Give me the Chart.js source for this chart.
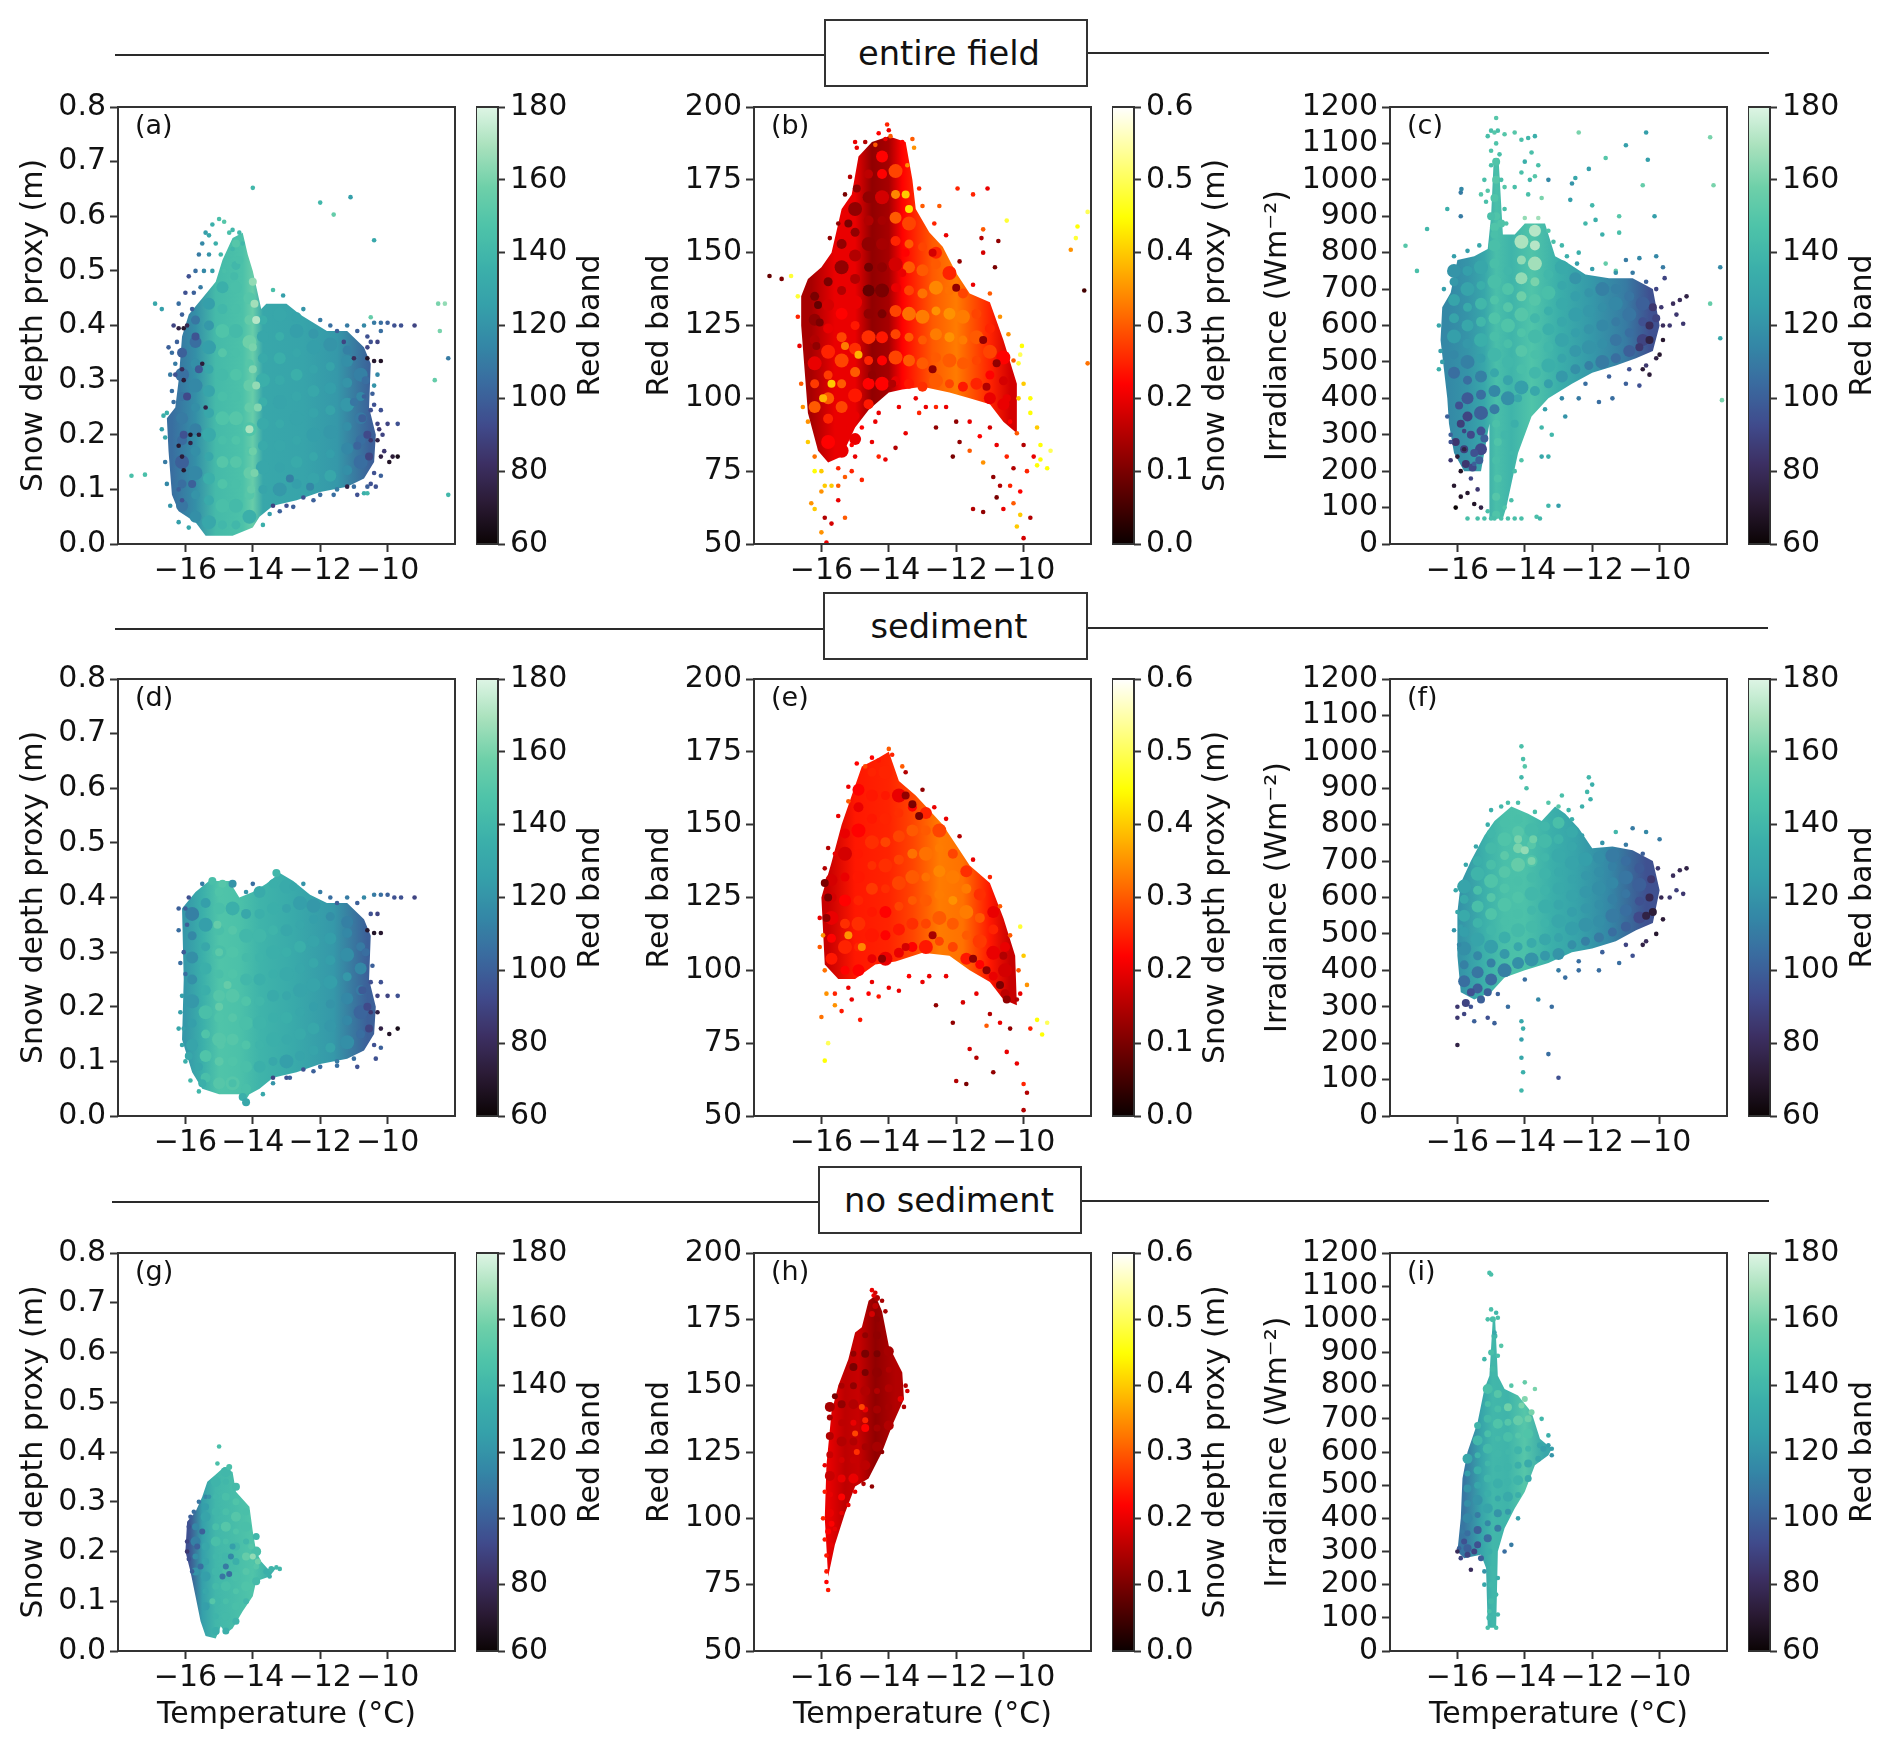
<!DOCTYPE html>
<html>
<head>
<meta charset="utf-8">
<script src="https://cdn.jsdelivr.net/npm/chart.js@4"></script>
<style>
  html, body { margin: 0; background: #fff; }
  #page { position: relative; width: 1892px; height: 1748px; overflow: hidden; filter: blur(0.5px); font-family: "DejaVu Sans"; }
  canvas { position: absolute; }
  .rule { position: absolute; height: 2px; background: #2a2a2a; }
  .box { position: absolute; box-sizing: border-box; border: 2.5px solid #333; background: #fff; font-size: 33.7px; display: flex; align-items: center; justify-content: center; color: #111; }
</style>
</head>
<body>
<div id="page"></div>
<script>
// tick labels
const tempTicks = [-16, -14, -12, -10]
const depthTicks = [0, 0.1, 0.2, 0.3, 0.4, 0.5, 0.6, 0.7, 0.8]
const redTicks = [50, 75, 100, 125, 150, 175, 200]
const irrTicks = [0, 100, 200, 300, 400, 500, 600, 700, 800, 900, 1000, 1100, 1200]
const barRedTicks = [60, 80, 100, 120, 140, 160, 180]
const barDepthTicks = [0, 0.1, 0.2, 0.3, 0.4, 0.5, 0.6]

// outline of the dense part of each cloud (x, y pairs), with its colour value along temperature
const aShape = [-15.1,.48, -14.9,.52, -14.6,.56, -14.3,.57, -14.15,.53, -14,.5, -13.75,.43, -13.6,.44, -13,.44, -12.6,.42, -12.2,.405, -11.8,.39, -11.2,.39, -10.7,.36, -10.5,.33, -10.55,.25, -10.35,.2, -10.4,.15, -10.7,.12, -11.2,.105, -12,.095, -12.7,.08, -13.4,.07, -13.8,.05, -14,.03, -14.6,.015, -15.4,.015, -15.7,.04, -16.2,.06, -16.4,.09, -16.5,.17, -16.55,.23, -16.3,.25, -16.2,.3, -16.1,.38, -15.9,.42, -15.5,.45]
const aBase = [-16.4,105, -15.7,118, -15.1,142, -14.3,146, -14,156, -13.7,130, -12.5,128, -11.5,122, -10.5,100]
const bShape = [-16.6,135, -16.4,141, -16,145, -15.7,150, -15.4,165, -15.1,170, -14.9,183, -14.5,188, -14,190, -13.5,188, -13.3,175, -13.2,165, -12.8,157, -12.4,152, -12,143, -11.6,136, -11,133, -10.6,120, -10.2,105, -10.2,88, -10.6,92, -11,98, -11.6,100, -12.2,102, -13,104, -13.6,103, -14,102, -14.6,96, -15,90, -15.4,80, -15.8,78, -16.1,82, -16.4,95, -16.5,110, -16.6,125]
const bBase = [-16.3,.14, -15.6,.2, -15,.2, -14.5,.12, -14,.14, -13.6,.22, -12.7,.3, -12,.33, -11,.25, -10.4,.18]
const cShape = [-16.5,560, -16.45,650, -16.2,690, -16,780, -15.5,790, -15.1,810, -15,900, -14.92,1060, -14.78,1060, -14.65,850, -14.3,850, -14,880, -13.4,880, -13.1,790, -12.7,770, -12.2,740, -11.5,730, -10.8,730, -10.2,700, -10,600, -10.2,530, -10.7,510, -11.3,490, -12,470, -12.6,440, -13.3,400, -13.8,350, -14.2,250, -14.55,100, -14.65,70, -15.05,70, -15.05,330, -15.3,200, -15.8,200, -16.1,250, -16.25,330, -16.3,400, -16.4,480]
const cBase = [-16.3,115, -15.7,120, -15.2,130, -14.85,145, -14.4,138, -13.8,148, -13,135, -12,122, -11,110, -10.3,95]
const dShape = [-16.1,.14, -16.05,.25, -16.1,.38, -15.7,.41, -15.3,.43, -14.7,.43, -14.4,.40, -14,.41, -13.6,.425, -13.2,.445, -12.8,.43, -12.3,.405, -11.8,.39, -11.2,.39, -10.7,.36, -10.5,.33, -10.55,.25, -10.35,.2, -10.4,.15, -10.7,.12, -11.2,.105, -12,.095, -12.7,.08, -13.4,.07, -13.8,.05, -14.1,.04, -14.25,.025, -14.4,.04, -15,.04, -15.5,.05, -15.8,.08]
const dBase = [-16,122, -15.5,135, -15,148, -14.4,146, -13.8,138, -12.8,132, -11.6,122, -10.6,100]
const eShape = [-16,125, -15.7,137, -15.4,150, -15.1,160, -14.8,170, -14.3,173, -14,175, -13.7,165, -13.2,160, -12.8,155, -12.4,150, -12,143, -11.6,136, -11,130, -10.6,118, -10.25,105, -10.2,88, -10.6,90, -11,96, -11.6,100, -12.2,105, -13,106, -13.8,103, -14.4,102, -15,97, -15.5,97, -15.9,102]
const eBase = [-15.8,.17, -15,.24, -14,.25, -13.3,.28, -12.5,.33, -11.8,.32, -11,.24, -10.4,.17]
const fShape = [-16,560, -15.9,640, -15.6,700, -15.2,770, -14.9,810, -14.4,850, -13.9,830, -13.5,810, -13.1,850, -12.8,830, -12.4,790, -12,735, -11.4,740, -10.8,730, -10.2,700, -10,620, -10.2,530, -10.7,510, -11.3,480, -12,460, -12.6,450, -13.3,420, -14,400, -14.6,380, -15,340, -15.5,320, -15.9,340, -16,440]
const fBase = [-15.9,120, -15.2,136, -14.6,145, -14,146, -13.2,135, -12.5,128, -11.5,115, -10.4,95]
const gShape = [-15.1,.355, -14.85,.37, -14.6,.36, -14.5,.32, -14.1,.29, -14,.24, -13.9,.2, -13.75,.18, -13.55,.165, -13.3,.168, -13.5,.15, -13.9,.14, -14,.11, -14.3,.08, -14.6,.045, -14.8,.035, -14.95,.05, -15.1,.025, -15.4,.03, -15.55,.06, -15.7,.11, -15.85,.16, -16,.2, -15.95,.26, -15.7,.28, -15.5,.31, -15.35,.34]
const gBase = [-15.9,95, -15.5,125, -15.1,140, -14.6,143, -14,148, -13.5,135]
const hShape = [-15.9,100, -15.85,120, -15.7,140, -15.5,150, -15.2,160, -15,170, -14.8,172, -14.6,182, -14.4,184, -14.2,178, -14,165, -13.6,155, -13.55,145, -13.9,135, -14.2,125, -14.6,115, -15,112, -15.3,102, -15.6,90, -15.8,78]
const hBase = [-15.8,.2, -15.3,.16, -14.9,.17, -14.4,.12, -13.8,.15]
const iShape = [-16,300, -15.9,400, -15.85,520, -15.7,600, -15.4,690, -15.2,790, -15.05,830, -14.95,1000, -14.88,1000, -14.8,830, -14.6,790, -14.2,770, -13.8,720, -13.55,640, -13.2,610, -13.3,590, -13.7,560, -14,480, -14.3,430, -14.6,370, -14.8,300, -14.85,70, -15.1,70, -15.15,250, -15.3,290, -15.8,280]
const iBase = [-15.8,108, -15.3,128, -14.95,140, -14.5,138, -14,150, -13.4,130]

// core rows are: temperature, then (y, colour value) pairs read along that temperature
const aCore = [
  [-16.1, .07,108, .11,105, .15,100, .19,104, .23,110, .27,108, .31,106, .35,100],
  [-15.7, .05,118, .09,120, .13,115, .17,118, .21,112, .25,118, .29,115, .33,118, .37,105, .41,108],
  [-15.3, .04,130, .08,132, .12,135, .16,130, .20,132, .24,130, .28,128, .32,130, .36,125, .40,122, .44,125],
  [-14.9, .035,140, .07,145, .11,148, .15,150, .19,145, .23,148, .27,145, .31,142, .35,150, .39,148, .43,140, .47,135],
  [-14.5, .035,140, .07,142, .11,145, .15,150, .19,148, .23,150, .27,145, .31,148, .35,145, .39,142, .43,145, .47,145, .51,140],
  [-14.1, .05,135, .09,150, .13,155, .17,150, .21,148, .25,155, .29,155, .33,150, .37,158, .41,155, .45,150],
  [-13.7, .10,128, .14,130, .18,132, .22,132, .26,135, .30,135, .34,132, .38,130, .41,135],
  [-13.2, .10,122, .14,128, .18,130, .22,132, .26,128, .30,132, .34,135, .38,135, .42,130],
  [-12.7, .11,125, .15,132, .19,130, .23,128, .27,130, .31,135, .35,130, .39,125, .415,128],
  [-12.2, .12,128, .16,130, .20,125, .24,128, .28,130, .32,128, .36,125, .385,122],
  [-11.7, .125,130, .165,125, .205,122, .245,128, .285,125, .325,128, .365,120],
  [-11.2, .135,118, .175,115, .215,118, .255,122, .295,120, .335,118, .355,112],
  [-10.8, .15,105, .19,105, .23,110, .27,115, .31,112]
]
const aMid = [-14,.48,165, -13.95,.44,168, -13.9,.41,172, -14,.36,160, -14,.32,162, -13.9,.29,165, -13.85,.25,162, -14.1,.21,170, -14,.17,158, -13.95,.13,160, -14.05,.1,155, -14.5,.55,150, -14.4,.52,145, -14.55,.49,142, -16.05,.2,95, -15.95,.27,92, -15.6,.32,98, -15.7,.38,96, -15.8,.11,100, -10.6,.2,92, -10.55,.16,90, -10.75,.23,100, -10.65,.3,105, -10.9,.18,102, -11,.26,108, -12.9,.12,112, -12.3,.105,115]
const aDots = [-14,.652,140, -12,.625,140, -11.6,.603,155, -11.1,.635,125, -10.4,.556,130, -17.6,.125,145, -17.2,.127,145, -16.9,.44,130, -16.7,.43,125, -13.4,.465,145, -8.5,.44,160, -8.3,.44,165, -8.45,.39,160, -8.2,.34,110, -8.6,.30,155, -8.2,.09,140, -10.5,.415,155, -11.2,.105,75, -10.7,.093,135, -10.6,.093,140,
  -15.7,.5,105, -15.6,.53,110, -15.5,.55,115, -15.4,.57,125, -15.2,.585,135, -15,.595,145, -14.85,.59,150, -14.7,.57,145, -14.6,.54,140, -15.3,.53,120, -15.1,.55,135, -14.95,.53,140, -15.45,.5,115, -15.2,.5,125, -14.85,.5,145, -15.55,.47,110, -15.9,.49,95, -15.75,.46,100, -16,.46,95, -15.8,.43,100, -15.3,.565,130, -14.6,.575,140, -14.4,.57,140, -14.3,.55,140,
  -16.2,.44,105, -16.1,.42,100, -16.2,.395,75, -16.05,.395,70, -15.95,.4,78, -16.4,.35,105, -16.3,.33,110, -16.25,.37,100, -16.3,.31,95, -16.05,.3,72, -16.1,.32,80, -15.5,.33,72, -15.4,.25,75, -16.4,.28,105, -16.55,.24,135, -16.65,.235,135, -16.6,.195,130, -16.2,.18,70, -16.1,.16,72, -16.05,.135,70, -15.85,.2,68, -15.6,.2,72, -15.85,.185,75, -16.2,.1,100, -16.1,.08,95,
  -11,.34,80, -10.6,.34,68, -10.4,.335,70, -10.2,.335,68, -10.5,.37,95, -10.3,.37,90, -10.6,.38,95, -10.9,.39,100, -11.3,.37,90, -11.5,.39,100, -11.2,.4,110, -10.7,.4,115, -10.4,.405,110, -10.2,.405,105, -10,.405,100, -9.8,.4,95, -9.6,.4,95, -9.2,.4,90, -10.2,.39,105, -10.5,.245,95, -10.2,.245,95, -10.3,.22,90, -10,.22,90, -9.7,.22,95, -10.5,.19,85, -10.3,.19,75, -10.2,.16,75, -9.95,.15,68, -9.7,.16,65, -9.85,.16,72, -10.1,.17,85, -10.4,.13,95, -10.2,.125,100, -10.5,.11,95, -11,.105,105, -11.5,.1,110, -12,.09,105, -12.5,.085,95, -13,.07,95, -13.4,.07,90, -10.7,.27,100, -10.4,.29,120, -10.3,.31,115,
  -16.35,.4,90, -16.5,.36,100, -16.45,.31,110, -16.35,.26,105, -16.7,.21,125, -16.6,.15,110, -16.55,.11,115, -16.45,.07,120, -16.2,.04,125, -15.9,.03,130, -13.7,.035,135, -13.5,.055,125, -13.2,.06,100, -12.8,.068,100, -12.2,.08,100, -11.6,.09,105, -10.9,.09,95, -10.6,.105,100, -10.35,.105,95, -10.25,.21,85, -10.15,.2,90, -10.4,.255,95, -10.45,.275,100, -10.6,.36,90, -11.7,.4,105, -12,.41,110, -12.5,.43,120, -13.1,.455,125]

const bCore = [
  [-16.2, 97,.3, 105,.27, 112,.2, 120,.15, 127,.12, 135,.1],
  [-15.8, 85,.22, 93,.25, 100,.3, 108,.27, 116,.25, 124,.2, 132,.18, 140,.1],
  [-15.4, 82,.2, 90,.2, 97,.28, 105,.3, 113,.28, 121,.28, 129,.22, 137,.15, 145,.12, 153,.12],
  [-15, 86,.2, 94,.2, 101,.24, 109,.3, 117,.26, 125,.24, 133,.2, 141,.15, 149,.15, 157,.12, 165,.12],
  [-14.6, 98,.24, 105,.22, 113,.25, 121,.26, 129,.12, 137,.08, 145,.09, 153,.12, 161,.15, 169,.12, 177,.16],
  [-14.2, 105,.22, 113,.22, 121,.24, 129,.1, 137,.1, 145,.12, 153,.14, 161,.14, 169,.18, 177,.22, 183,.22],
  [-13.8, 106,.2, 114,.28, 122,.28, 130,.28, 138,.2, 146,.18, 154,.25, 162,.3, 170,.34, 178,.28],
  [-13.4, 105,.24, 113,.3, 121,.3, 129,.32, 137,.28, 145,.3, 153,.3, 160,.28],
  [-13, 104,.26, 112,.3, 120,.3, 128,.33, 136,.32, 144,.3, 152,.28],
  [-12.6, 106,.3, 114,.3, 122,.33, 130,.35, 138,.34, 146,.3, 150,.25],
  [-12.2, 105,.28, 113,.3, 121,.35, 129,.35, 137,.32, 143,.25],
  [-11.8, 104,.24, 112,.3, 120,.33, 128,.33, 136,.28],
  [-11.4, 105,.25, 113,.28, 121,.3, 129,.28],
  [-11, 100,.2, 108,.22, 116,.28, 124,.25],
  [-10.6, 98,.2, 106,.18, 114,.22]
]
const bMid = [-13.6,143,.2, -13.75,138,.2, -13.5,150,.22, -14.9,115,.38, -15.7,105,.4, -15.95,100,.38, -15.3,118,.33, -14.95,172,.12, -15.2,160,.1, -16.1,132,.08, -16.05,126,.1, -16.15,118,.12, -13.4,165,.42, -13.5,170,.4, -12.7,110,.12, -13.9,105,.15, -14.5,108,.12, -11.2,120,.12, -12,138,.12, -12.7,150,.18, -11.1,104,.15, -10.8,112,.12, -10.5,100,.2]
const bDots = [-17.54,142,.08, -17.18,141,.1, -16.9,142,.48, -16.7,135,.48, -14.05,194,.25, -14,192,.2, -13.95,190,.3, -14.1,189,.2, -13.3,189,.3, -13.25,186,.35, -15,188,.2, -14.7,188,.15, -14.4,187,.3, -13.6,188,.22, -11.96,172,.25, -11.5,170,.25, -11.07,172,.2, -10.5,161,.48, -12.5,166,.3, -11.2,158,.3, -11.25,155,.15, -11.2,150,.18, -10.75,154,.12, -10.85,145,.1, -8.1,164,.5, -8.4,159,.45, -8.45,155,.48, -8.6,151,.35, -8.2,137,.05, -8.1,112,.32,
  -16,75,.4, -16.2,75,.45, -15.9,70,.4, -16,68,.35, -15.7,70,.4, -15.5,70,.3, -16.3,64,.35, -16.2,62,.4, -15.9,59,.15, -15.7,57,.18, -15.3,59,.3, -16,54,.35, -15.85,50.5,.2, -15.5,65,.2, -15.1,75,.25, -15,80,.2, -14.8,72,.25, -14.5,85,.2, -14.3,80,.25, -14.1,79,.2, -13.8,83,.15, -13.5,88,.2, -13.1,95,.25, -12.6,90,.12, -12.1,80,.1, -11.9,85,.12, -11.6,82,.3, -11.2,78,.35, -10.9,73,.12, -10.7,70,.15, -10.4,70,.25, -10.1,68,.22, -10.3,64,.3, -10.1,60,.4, -9.8,59,.15, -10.2,56,.4, -10,52,.18, -11.5,62,.15, -11.2,61,.12, -10.8,66,.1, -10.6,62,.2, -9.9,75,.25, -9.7,80,.2, -9.5,79,.45, -9.2,82,.5, -9.3,76,.45, -9.6,77,.45, -9.5,84,.45, -9.6,90,.4, -9.8,95,.45, -9.8,100,.45, -10,105,.4, -10.1,115,.5, -10.15,112,.48, -10.05,118,.45, -16.4,92,.35, -16.4,85,.4, -16.2,80,.32,
  -12.3,97,.2, -11.6,92,.2, -11,90,.18, -10.4,92,.22, -10.2,88,.3, -10,84,.15, -13.2,100,.2, -14.4,92,.2, -15.5,76,.25, -15.3,73,.3, -14.8,90,.22, -14.3,95,.2, -13.7,97,.2, -12.9,97,.2, -12.6,97,.25, -12,92,.12, -11.3,87,.22, -10.8,84,.2, -10.5,80,.25, -10.3,76,.15, -15.1,84,.22,
  -15.75,155,.12, -15.5,160,.12, -15.3,170,.1, -15.15,176,.15, -14.95,186,.2, -14.3,191,.22, -13.45,180,.35, -13.1,172,.25, -13,166,.3, -12.65,160,.25, -12.3,156,.2, -11.9,147,.12, -11.5,139,.2, -11,136,.3, -10.7,128,.35, -10.45,122,.35, -10.3,113,.3, -10.15,100,.4, -16.7,128,.25, -16.65,118,.2, -16.6,105,.3, -16.55,97,.35]

const cCore = [
  [-16.1, 470,105, 520,115, 570,125, 620,128, 670,128, 720,122, 750,120],
  [-15.7, 350,90, 400,98, 450,105, 500,112, 550,122, 600,130, 650,132, 700,128, 750,125],
  [-15.3, 260,92, 310,95, 360,100, 410,105, 460,112, 510,125, 560,135, 610,140, 660,140, 710,135, 760,130],
  [-14.9, 370,110, 420,115, 470,130, 520,140, 570,145, 620,148, 670,148, 720,145, 770,145, 820,145, 870,148],
  [-14.5, 400,118, 450,128, 500,140, 550,145, 600,148, 650,150, 700,148, 750,140],
  [-14.1, 430,125, 480,145, 530,150, 580,148, 630,150, 680,158, 730,165, 780,165, 830,170],
  [-13.7, 420,130, 470,140, 520,145, 570,142, 620,140, 670,150, 720,160, 770,168, 820,172, 860,172],
  [-13.3, 440,125, 490,135, 540,140, 590,135, 640,135, 690,145, 740,140],
  [-12.9, 460,122, 510,128, 560,128, 610,130, 660,132, 710,130, 760,132],
  [-12.5, 480,118, 530,122, 580,125, 630,125, 680,125, 730,120],
  [-12.1, 490,112, 540,120, 590,120, 640,122, 690,120],
  [-11.7, 500,110, 550,118, 600,115, 650,118, 700,112],
  [-11.3, 510,105, 560,108, 610,110, 660,115, 700,112],
  [-10.9, 530,100, 580,105, 630,108, 680,108],
  [-10.5, 560,90, 610,95, 660,100]
]
const cMid = [-14.85,80,148, -14.85,130,150, -14.8,180,148, -14.85,230,145, -14.8,280,148, -14.85,330,146, -14.6,300,140, -14.3,330,135, -14.2,400,130, -14.85,900,148, -14.9,950,148, -14.85,1000,150, -14.85,1050,148, -14.9,850,145, -15,900,145, -14.7,880,148, -15.8,260,88, -15.6,300,92, -15.5,250,95, -15.9,330,88, -15.35,230,100, -15.75,220,85, -16.05,280,85, -15.55,210,92, -15.95,380,95, -15.2,290,100, -10.3,600,80, -10.2,650,85, -10.3,560,75, -10.6,540,85, -10.1,620,90]
const cDots = [-17.54,819,150, -16.9,865,140, -17.2,750,145, -16.3,920,135, -15.9,965,110, -15.88,975,115, -15.9,900,110, -14.85,1170,150, -15,1135,145, -14.9,1130,150, -14.8,1135,145, -15.1,1120,145, -14.85,1100,148, -14.6,1125,150, -14.3,1130,150, -14.1,1110,145, -13.9,1115,140, -13.7,1120,135, -13.8,1075,145, -14,1050,135, -14.1,1020,145, -13.85,1000,140, -13.3,1000,115, -13.6,1040,145, -13.7,1010,150, -14.3,980,145, -15.2,1000,145, -15.3,960,150, -15.1,970,150, -13.9,960,145, -13.5,950,160,
  -12.4,1130,160, -11,1095,125, -10.4,1130,125, -10.35,1055,125, -10.5,985,155, -11.6,1060,150, -12.1,1030,125, -12.5,1005,130, -12.6,990,120, -12.65,945,125, -11.2,900,150, -11.2,855,145, -10.15,900,125, -8.5,1117,160, -8.4,985,160, -8.2,760,115, -8.5,660,155, -8.2,565,130, -8.15,395,160, -12,930,140, -11.9,890,135, -11.7,850,135, -12.2,880,140, -12.4,800,135, -11.6,770,155, -11.3,750,155, -11,780,110, -10.6,785,115, -10.1,790,115, -9.9,760,110, -9.85,730,90, -9.4,670,80, -9.2,680,75, -9.6,660,80, -9.5,630,85, -9.3,605,85, -9.7,600,85, -9.9,560,70, -10,520,70, -10.3,465,72, -10.5,480,72, -10.6,435,95, -11,440,100, -11.4,400,105, -11.8,390,105, -12.4,400,110, -12.8,350,120, -13.5,320,140, -13.2,300,140, -13.5,240,130, -13.3,240,135, -13.3,105,140, -13,105,125, -13.65,75,145, -13.55,70,140,
  -15.7,70,145, -15.4,70,145, -15.2,70,145, -15,70,145, -14.9,70,145, -14.7,70,145, -14.5,70,145, -14.3,70,145, -14.1,70,145, -15.1,90,145, -14.6,100,148, -14.4,120,145, -14.3,200,145, -14.1,230,148, -14.4,250,140,
  -16.2,230,85, -16,240,72, -15.9,200,68, -15.8,260,75, -16.1,160,70, -15.9,130,68, -16.05,100,60, -15.7,140,70, -15.5,110,68, -15.3,100,75, -16.2,300,100, -16.3,350,100, -16.2,280,95, -15.6,180,90, -15.4,150,85, -15.5,220,100, -15.8,310,90, -16.45,500,125, -16.55,480,135,
  -15,1080,148, -14.75,1070,145, -14.7,1000,145, -15,1040,145, -15.15,940,145, -14.6,920,145, -14.6,980,150, -14.55,880,148, -13.3,860,148, -13.15,830,145, -12.9,820,140, -12.75,790,135, -12.45,770,125, -12,755,125, -11.3,745,120, -10.8,745,110, -10.4,720,100, -10.1,700,90, -9.95,650,85, -9.9,600,80, -10.1,510,75, -10.4,490,85, -10.9,480,95, -11.5,460,100, -12.2,440,105, -12.9,400,115, -13.4,370,125, -16.55,600,130, -16.5,530,125, -16.4,700,125, -16.1,790,125, -15.7,805,125, -15.35,820,130, -14,895,165, -13.6,895,168]

const dCore = [
  [-15.8, .13,128, .17,125, .21,122, .25,118, .29,118, .33,115, .37,112],
  [-15.4, .07,145, .11,148, .15,148, .19,145, .23,135, .27,135, .31,130, .35,125, .39,125],
  [-15, .06,150, .10,152, .14,150, .18,148, .22,150, .26,145, .30,145, .34,145, .38,145, .41,148],
  [-14.6, .06,150, .10,148, .14,150, .18,150, .22,150, .26,148, .30,148, .34,150, .38,135],
  [-14.2, .05,145, .09,145, .13,148, .17,145, .21,148, .25,140, .29,142, .33,140, .37,130],
  [-13.8, .09,135, .13,138, .17,138, .21,140, .25,135, .29,138, .33,140, .37,135, .41,132],
  [-13.4, .10,130, .14,135, .18,135, .22,132, .26,135, .30,135, .34,138, .38,135, .425,135],
  [-13, .10,125, .14,132, .18,135, .22,130, .26,132, .30,135, .34,130, .38,128, .42,132],
  [-12.6, .11,128, .15,132, .19,130, .23,128, .27,130, .31,135, .35,130, .39,125],
  [-12.2, .12,128, .16,130, .20,125, .24,128, .28,130, .32,128, .36,125, .385,122],
  [-11.7, .125,128, .165,122, .205,120, .245,125, .285,125, .325,125, .365,118],
  [-11.2, .135,118, .175,115, .215,115, .255,122, .295,118, .335,115, .355,112],
  [-10.8, .15,105, .19,102, .23,110, .27,115, .31,110]
]
const dMid = [-15.05,.35,155, -15,.3,152, -15,.2,155, -14.75,.24,155, -14.95,.13,150, -14.6,.06,145, -14.3,.035,135, -14.2,.025,130, -15.5,.06,135, -15.6,.09,130, -15.9,.11,130, -14.9,.425,150, -15.2,.43,145, -14.6,.425,120, -13.3,.445,140, -12.8,.42,130, -10.6,.2,92, -10.55,.16,90, -10.75,.23,98, -10.65,.3,105]
const dDots = [-16,.38,100, -15.9,.4,95, -15.95,.35,100, -16.05,.3,98, -16.1,.22,125, -16,.26,105, -16.1,.13,130, -16.05,.16,125, -15.5,.425,110, -14.2,.41,120, -14,.425,105, -11.5,.39,100, -11.2,.4,110, -10.9,.39,100, -10.7,.4,115, -10.4,.405,110, -10.2,.405,105, -10,.405,100, -9.8,.4,95, -9.6,.4,95, -9.2,.4,90, -10.6,.34,70, -10.4,.335,68, -10.2,.335,70, -10.5,.37,95, -10.3,.37,90, -10.5,.245,95, -10.2,.245,95, -10.3,.22,90, -10,.22,90, -9.7,.22,95, -10.5,.19,85, -10.3,.19,75, -10.2,.16,75, -9.95,.15,68, -9.7,.16,65, -10.4,.13,95, -10.2,.125,100, -11,.105,105, -11.5,.1,110, -12,.09,105, -12.5,.085,95, -13,.07,95, -13.4,.07,90,
  -16.2,.34,105, -16.2,.38,100, -16.15,.28,105, -16.15,.19,125, -16.2,.16,130, -16,.1,135, -15.85,.065,140, -15.6,.045,140, -13.7,.04,130, -13.4,.06,120, -12.9,.07,100, -12.2,.082,100, -11.5,.092,105, -10.9,.09,95, -10.35,.105,95, -10.45,.275,100, -11.7,.4,105, -12,.41,110, -12.5,.425,120]

const eCore = [
  [-15.7, 104,.24, 111,.22, 118,.2, 125,.18, 131,.18],
  [-15.3, 100,.22, 108,.25, 116,.26, 124,.22, 132,.2, 140,.18, 147,.2],
  [-14.9, 100,.22, 108,.25, 116,.26, 124,.25, 132,.24, 140,.24, 148,.22, 156,.2, 162,.22],
  [-14.5, 104,.2, 112,.24, 120,.24, 128,.27, 136,.26, 144,.26, 152,.24, 160,.24, 168,.25],
  [-14.1, 104,.2, 112,.22, 120,.22, 128,.26, 136,.26, 144,.28, 152,.25, 160,.24, 168,.25],
  [-13.7, 106,.2, 114,.24, 122,.28, 130,.28, 138,.28, 146,.28, 154,.26, 160,.2],
  [-13.3, 108,.22, 116,.26, 124,.3, 132,.3, 140,.32, 148,.3, 156,.22],
  [-12.9, 108,.24, 116,.28, 124,.3, 132,.32, 140,.32, 148,.3, 154,.25],
  [-12.5, 110,.28, 118,.3, 126,.33, 134,.34, 142,.33, 148,.28],
  [-12.1, 108,.28, 116,.3, 124,.35, 132,.33, 140,.28],
  [-11.7, 104,.24, 112,.3, 120,.33, 128,.33, 134,.26],
  [-11.3, 102,.22, 110,.27, 118,.3, 126,.26],
  [-10.9, 98,.2, 106,.2, 114,.25, 120,.2],
  [-10.55, 92,.16, 100,.18, 108,.2]
]
const eMid = [-13.5,160,.12, -13.3,157,.1, -13.1,153,.1, -15.8,125,.1, -15.85,118,.12, -15.9,130,.1, -15.2,112,.35, -14.8,108,.34, -14.2,104,.12, -13.5,108,.18, -12.7,112,.14, -11.5,104,.12, -11.1,100,.12, -10.7,95,.1, -10.5,90,.12, -10.6,105,.15]
const eDots = [-14,176,.3, -13.9,174,.25, -14.3,172,.24, -14.7,170,.28, -14.5,173,.22, -13.6,170,.3, -15.2,158,.3, -15.6,140,.2, -15.9,135,.15, -15.95,112,.35, -15.9,100,.32, -15.85,92,.35, -16,84,.32, -15.8,75,.5, -15.9,69,.45, -15.6,88,.35, -15.4,86,.24, -15.1,90,.2, -14.85,83,.24, -14.3,91,.24, -14.5,96,.2, -13.7,93,.2, -13,96,.2, -12.3,98,.2, -12.1,82,.12, -12,62,.15, -11.7,61,.1, -11.6,73,.18, -11.4,70,.15, -11.1,81,.3, -10.9,65,.12, -10.5,72,.2, -10.2,68,.2, -10,61,.25, -10,52,.15, -9.9,58,.15, -9.8,80,.25, -9.6,83,.45, -9.45,78,.45, -9.3,82,.5, -10.2,90,.15, -9.9,95,.35, -10,105,.4, -10.1,115,.48, -11.8,89,.18, -12.6,88,.12, -11.4,92,.2, -15.6,92,.25, -15.2,94,.2, -14.6,92,.22, -14,94,.2, -13.4,98,.22, -12.8,98,.2, -11,85,.15, -10.7,82,.2, -10.4,80,.12,
  -16.05,118,.2, -16.05,108,.3, -15.8,142,.15, -15.5,153,.2, -15.2,163,.2, -14.95,171,.22, -13.5,168,.15, -13,162,.12, -12.65,156,.2, -12.3,152,.2, -11.9,146,.15, -11.5,138,.2, -11,132,.25, -10.7,122,.3, -10.4,112,.3, -10.15,100,.3, -10.1,92,.2]

const fCore = [
  [-15.8, 370,105, 415,112, 460,118, 505,125, 550,132, 595,132, 630,128],
  [-15.4, 350,100, 395,108, 440,115, 485,128, 530,138, 575,145, 620,145, 665,138, 700,135],
  [-15, 375,105, 420,112, 465,125, 510,140, 555,148, 600,150, 645,148, 690,145, 735,142, 775,140],
  [-14.6, 400,112, 445,122, 490,135, 535,145, 580,148, 625,148, 670,150, 715,152, 760,148, 805,145],
  [-14.2, 420,118, 465,130, 510,142, 555,145, 600,148, 645,145, 690,155, 735,160, 780,150, 815,145],
  [-13.8, 430,120, 475,132, 520,142, 565,140, 610,140, 655,142, 700,148, 745,150, 785,142],
  [-13.4, 440,122, 485,130, 530,138, 575,135, 620,138, 665,138, 710,140, 755,142, 795,140],
  [-13, 445,120, 490,128, 535,130, 580,130, 625,132, 670,132, 715,132, 760,138, 805,145],
  [-12.6, 470,118, 515,125, 560,125, 605,128, 650,128, 695,128, 740,130, 780,132],
  [-12.2, 480,112, 525,120, 570,122, 615,122, 660,122, 705,125],
  [-11.8, 490,110, 535,118, 580,118, 625,118, 670,118, 710,118],
  [-11.4, 505,105, 550,110, 595,112, 640,115, 685,112, 715,110],
  [-11, 520,100, 565,105, 610,108, 655,108, 700,105],
  [-10.6, 545,92, 590,95, 635,100, 680,98]
]
const fMid = [-15.6,340,95, -15.75,310,90, -15.3,320,100, -15.1,340,100, -13.8,700,160, -14,730,165, -14.2,760,160, -13.75,760,158, -10.3,600,78, -10.25,650,85, -10.4,550,75, -10.2,560,72]
const fDots = [-14.1,1015,145, -14.05,980,145, -14,960,150, -14.1,930,140, -13.95,900,145, -14.5,860,145, -15,840,135, -13.3,860,150, -13,850,150, -12.9,880,145, -12.7,840,140, -12.1,930,140, -12,910,135, -12.15,890,140, -12.05,870,135, -12.3,850,135, -16,300,85, -16,270,85, -16,195,75, -15.8,280,90, -15.5,260,100, -15.1,270,95, -14.9,255,100, -14.5,300,105, -14.1,260,130, -14.05,240,135, -14.1,210,125, -14.1,160,130, -14.05,120,135, -14.1,70,140, -13.3,170,105, -13,105,95, -13.2,300,105, -13.6,320,115, -12.8,380,105, -12.4,400,105, -11.8,400,105, -11.2,420,105, -10.8,440,95, -10.5,470,75, -10.1,500,70, -9.9,540,72, -9.7,600,85, -9.5,620,88, -9.3,610,85, -9.6,660,80, -9.4,675,78, -9.2,680,75, -10,760,110, -10.4,780,115, -10.8,790,110, -11.3,780,140, -15.9,520,125, -16,560,130, -15.95,470,115,
  -16.1,510,120, -16.05,620,130, -15.75,690,130, -15.45,740,130, -15.1,800,135, -14.7,850,140, -14.2,860,145, -13.7,835,145, -12.6,815,135, -12.3,770,125, -11.7,750,120, -11,745,110, -10.5,720,100, -10.05,680,85, -9.95,600,78, -10.4,480,80, -11,470,90, -11.7,450,100, -12.4,425,105, -13,400,110, -14,375,105, -14.8,335,100, -15.6,300,95]

const gCore = [
  [-15.7, .16,120, .19,118, .22,112, .25,115],
  [-15.4, .09,125, .12,130, .15,125, .18,128, .21,130, .24,130, .27,128, .29,125],
  [-15.1, .04,135, .07,138, .10,140, .13,142, .16,140, .19,140, .22,145, .25,145, .28,140, .31,140, .34,138],
  [-14.8, .04,135, .07,142, .10,145, .13,145, .16,145, .19,140, .22,145, .25,150, .28,145, .31,145, .34,140, .36,140],
  [-14.5, .06,138, .09,145, .12,148, .15,145, .18,135, .21,140, .24,148, .27,150, .30,148, .33,142],
  [-14.2, .10,140, .13,148, .16,150, .19,155, .22,140, .25,145, .28,145],
  [-13.9, .14,142, .17,150, .20,145, .23,140]
]
const gMid = [-13.85,.18,158, -14,.19,165, -14.05,.21,150, -14.6,.21,125, -14.8,.17,110, -14.9,.15,108, -14.65,.19,115, -14.7,.155,105, -15.5,.24,100, -15.55,.17,105, -15.65,.21,100, -15.2,.1,150, -14.7,.37,145, -13.6,.16,135, -13.45,.165,138]
const gDots = [-15,.411,145, -15.05,.377,145, -15.9,.25,95, -15.95,.22,90, -15.95,.2,85, -15.85,.27,100, -15.75,.28,105, -15.9,.185,95, -15.8,.16,100, -15.6,.3,108, -15.4,.31,115, -13.3,.168,140, -13.2,.165,140, -13.5,.15,135, -15.3,.31,120]

const hCore = [
  [-15.75, 102,.2, 109,.2, 116,.17, 124,.17, 131,.15, 138,.14, 142,.14],
  [-15.4, 108,.22, 115,.2, 122,.18, 129,.15, 136,.16, 143,.12, 150,.14],
  [-15.05, 115,.2, 122,.17, 129,.15, 136,.2, 143,.15, 150,.12, 157,.1, 162,.12],
  [-14.7, 120,.16, 127,.14, 134,.22, 141,.2, 148,.15, 155,.1, 162,.1, 169,.12],
  [-14.35, 127,.14, 134,.14, 141,.14, 148,.15, 155,.12, 162,.1, 169,.12, 175,.12],
  [-14, 135,.15, 142,.14, 149,.15, 156,.15, 163,.14]
]
const hMid = [-15,132,.28, -14.8,142,.28, -14.95,125,.26, -14.7,137,.25, -14.5,177,.18, -14.4,180,.16, -14.35,183,.15, -15.7,98,.22, -15.8,95,.22, -15.6,146,.1, -13.7,148,.15, -13.65,145,.2]
const hDots = [-14.5,186,.2, -14.45,184,.2, -14.4,185,.18, -14.2,182,.14, -14.1,178,.14, -13.5,150,.15, -13.45,148,.18, -13.55,142,.15, -15.9,120,.2, -15.9,110,.24, -15.95,100,.25, -15.9,92,.24, -15.85,86,.24, -15.85,80,.24, -15.85,76,.22, -15.8,73,.24, -15.7,90,.2, -15.6,96,.2, -15.4,102,.2, -15,110,.2, -15.2,105,.2, -14.75,113,.15, -14.5,112,.12, -14.2,125,.12]

const iCore = [
  [-15.7, 310,100, 355,105, 400,115, 445,118, 490,120, 535,125, 580,130],
  [-15.4, 320,95, 365,100, 410,110, 455,120, 500,130, 545,135, 590,138, 635,140, 680,138],
  [-15.1, 340,105, 385,115, 430,128, 475,135, 520,140, 565,140, 610,142, 655,145, 700,142, 745,145, 790,145],
  [-14.8, 370,110, 415,120, 460,130, 505,135, 550,138, 595,140, 640,142, 685,148, 730,145, 775,150],
  [-14.5, 420,122, 465,132, 510,138, 555,138, 600,140, 645,145, 690,150, 735,158],
  [-14.2, 470,135, 515,138, 560,135, 605,138, 650,150, 695,155],
  [-13.9, 520,132, 565,132, 610,140, 655,148, 700,158]
]
const iMid = [-15.05,100,140, -15,150,142, -15,200,140, -14.95,250,140, -15.05,300,135, -14.95,850,142, -15,900,145, -14.9,950,140, -14.95,1000,145, -15.7,290,90, -15.8,330,95, -15.5,300,90, -15.3,280,100, -13.55,620,130, -13.45,610,125, -13.6,580,130, -14.1,740,160, -14,760,162, -13.8,720,160]
const iDots = [-15.05,1140,145, -15,1135,145, -15,1030,145, -14.85,1020,140, -15.1,1000,145, -14.9,960,130, -14.7,920,150, -14.8,890,145, -15.2,880,140, -14.8,1005,145, -15.1,70,145, -14.85,70,145, -15.05,120,145, -14.8,110,140, -14.85,170,140, -15.2,200,130, -14.8,220,135, -15.2,240,120, -15.9,280,90, -15.95,310,100, -15.85,360,110, -16,300,80, -15.6,245,80, -14.6,300,105, -14.4,320,110, -14.2,400,125, -13.3,620,125, -13.2,610,125, -13.2,590,120, -13.3,650,135, -13.7,790,160, -14,810,155, -14.4,800,150, -13.5,700,140]

// axis ranges and colormaps
const tempRange = [-18, -8]
const makoStops = ['#0b0405', '#2a1a33', '#3c2f62', '#404b8d', '#3a6a9f', '#3487a6', '#35a0aa', '#3cb1aa', '#4ec3a9', '#6fd0a9', '#a8e1bc', '#def5e5']
const hotStops = [[0, '#0b0000'], [0.365, '#ff0000'], [0.746, '#ffff00'], [1, '#ffffff']]

function hexRgb(h) {
  return [parseInt(h.slice(1, 3), 16), parseInt(h.slice(3, 5), 16), parseInt(h.slice(5, 7), 16)]
}

const makoMap = makoStops.map((c, i) => [i / (makoStops.length - 1), c])

function colorAt(map, f) {
  f = Math.min(1, Math.max(0, f))
  for (let i = 1; i < map.length; i++) {
    if (f <= map[i][0]) {
      const t = (f - map[i - 1][0]) / (map[i][0] - map[i - 1][0])
      const a = hexRgb(map[i - 1][1]), b = hexRgb(map[i][1])
      return 'rgb(' + a.map((v, k) => Math.round(v + (b[k] - v) * t)).join(',') + ')'
    }
  }
  return map[map.length - 1][1]
}

function colFromRed(v) { return colorAt(makoMap, (v - 60) / 120) }
function colFromDepth(v) { return colorAt(hotStops, v / 0.6) }

function rowsToTriples(rows) {
  const out = []
  rows.forEach(r => {
    for (let i = 1; i < r.length; i += 2) out.push([r[0], r[i], r[i + 1]])
  })
  return out
}

function flatToTriples(flat) {
  const out = []
  for (let i = 0; i < flat.length; i += 3) out.push([flat[i], flat[i + 1], flat[i + 2]])
  return out
}

function pointSet(triples, colFn, radii) {
  return {
    data: triples.map(t => ({ x: t[0], y: t[1] })),
    pointBackgroundColor: triples.map(t => colFn(t[2])),
    pointBorderWidth: 0,
    pointRadius: triples.map((t, i) => radii[i % radii.length])
  }
}

// filled outline of the cloud, coloured along the temperature axis
function shapeSet(shape, base, colFn) {
  const pts = []
  for (let i = 0; i < shape.length; i += 2) pts.push({ x: shape[i], y: shape[i + 1] })
  return {
    data: pts,
    showLine: true,
    fill: 'shape',
    borderWidth: 0,
    tension: 0,
    pointRadius: 0,
    backgroundColor: c => {
      const x = c.chart.scales.x
      if (!x || !c.chart.chartArea) return 'rgba(0,0,0,0)'
      const l = x.getPixelForValue(tempRange[0]), r = x.getPixelForValue(tempRange[1])
      const g = c.chart.ctx.createLinearGradient(l, 0, r, 0)
      for (let i = 0; i < base.length; i += 2) {
        g.addColorStop((base[i] - tempRange[0]) / (tempRange[1] - tempRange[0]), colFn(base[i + 1]))
      }
      return g
    }
  }
}

const fontFam = '"DejaVu Sans"'
const tickFont = { family: fontFam, size: 30 }
const labelCol = '#111'

// draws the frame, panel letter
const framePlugin = {
  id: 'frame',
  afterDraw(chart) {
    const c = chart.ctx, a = chart.chartArea, o = chart.options.plugins.frame
    c.save()
    c.strokeStyle = '#333'
    c.lineWidth = 2
    c.strokeRect(a.left, a.top, a.right - a.left, a.bottom - a.top)
    if (o.letter) {
      c.fillStyle = labelCol
      c.font = '27px ' + fontFam
      c.textBaseline = 'middle'
      c.fillText(o.letter, a.left + 17, a.top + 20)
    }
    if (o.sideLabel) {
      c.translate(o.sideX, (a.top + a.bottom) / 2)
      c.rotate(-Math.PI / 2)
      c.fillStyle = labelCol
      c.font = tickFont.size + 'px ' + fontFam
      c.textAlign = 'center'
      c.textBaseline = 'middle'
      c.fillText(o.sideLabel, 0, 0)
    }
    c.restore()
  }
}

function fmtTick(v, digits) {
  return v.toFixed(digits).replace('-', '\u2212')
}

function addCanvas(left, top, w, h) {
  const cv = document.createElement('canvas')
  cv.width = w
  cv.height = h
  cv.style.left = left + 'px'
  cv.style.top = top + 'px'
  cv.style.width = w + 'px'
  cv.style.height = h + 'px'
  document.getElementById('page').appendChild(cv)
  return cv
}

const padTop = 24
const nudgeY = 2

function panel(col, row, letter, sets, yRange, yTicks, yDigits, yTitle) {
  const bottomSpace = row.lastRow ? 82 : 50
  const w = col.right + 15 - col.canvasLeft
  const h = padTop + (row.bottom - row.top) + bottomSpace
  const cv = addCanvas(col.canvasLeft, row.top - padTop + nudgeY, w, h)
  new Chart(cv, {
    type: 'scatter',
    data: { datasets: sets },
    plugins: [framePlugin],
    options: {
      responsive: false,
      animation: false,
      devicePixelRatio: 1,
      layout: { padding: { top: padTop, right: 15, left: 0, bottom: 0 } },
      plugins: { legend: { display: false }, tooltip: { enabled: false }, frame: { letter: letter } },
      scales: {
        x: {
          type: 'linear', min: tempRange[0], max: tempRange[1],
          afterBuildTicks: s => { s.ticks = tempTicks.map(v => ({ value: v })) },
          afterFit: s => { s.height = bottomSpace },
          grid: { drawOnChartArea: false, tickLength: 8, tickColor: '#333', tickWidth: 2 },
          border: { display: false },
          ticks: { font: tickFont, color: labelCol, padding: 1, autoSkip: false, maxRotation: 0, callback: v => fmtTick(v, 0) },
          title: { display: !!row.lastRow, text: 'Temperature (°C)', font: tickFont, color: labelCol, padding: 0 }
        },
        y: {
          type: 'linear', min: yRange[0], max: yRange[1],
          afterBuildTicks: s => { s.ticks = yTicks.map(v => ({ value: v })) },
          afterFit: s => { s.width = col.left - col.canvasLeft },
          grid: { drawOnChartArea: false, tickLength: 8, tickColor: '#333', tickWidth: 2 },
          border: { display: false },
          ticks: { font: tickFont, color: labelCol, padding: 4, autoSkip: false, callback: v => fmtTick(v, yDigits) },
          title: { display: true, text: yTitle, font: tickFont, color: labelCol, padding: 0 }
        }
      }
    }
  })
}

function colorbar(col, row, map, range, ticks, digits, label) {
  const w = 145
  const h = padTop + (row.bottom - row.top) + 24
  const cv = addCanvas(col.barLeft, row.top - padTop + nudgeY, w, h)
  new Chart(cv, {
    type: 'bar',
    data: {
      labels: [label],
      datasets: [{
        data: [[range[0], range[1]]],
        barPercentage: 1,
        categoryPercentage: 1,
        backgroundColor: c => {
          const a = c.chart.chartArea
          if (!a) return '#000'
          const g = c.chart.ctx.createLinearGradient(0, a.bottom, 0, a.top)
          for (let i = 0; i <= 60; i++) g.addColorStop(i / 60, colorAt(map, i / 60))
          return g
        }
      }]
    },
    plugins: [framePlugin],
    options: {
      responsive: false,
      animation: false,
      devicePixelRatio: 1,
      layout: { padding: { top: padTop, bottom: 24, left: 0, right: 0 } },
      plugins: { legend: { display: false }, tooltip: { enabled: false }, frame: { sideLabel: label, sideX: col.barLabel - col.barLeft } },
      scales: {
        x: { display: false },
        y: {
          position: 'right', min: range[0], max: range[1],
          afterBuildTicks: s => { s.ticks = ticks.map(v => ({ value: v })) },
          afterFit: s => { s.width = w - 22 },
          grid: { drawOnChartArea: false, tickLength: 7, tickColor: '#333', tickWidth: 2 },
          border: { display: false },
          ticks: { font: tickFont, color: labelCol, padding: 5, autoSkip: false, callback: v => fmtTick(v, digits) }
        }
      }
    }
  })
}

function sectionHeader(text, boxLeft, boxRight, boxTop, boxBottom, lineL, lineR, yL, yR, textShift) {
  const page = document.getElementById('page')
  const l = document.createElement('div')
  l.className = 'rule'
  l.style.cssText = 'left:' + lineL + 'px;top:' + yL + 'px;width:' + (boxLeft - lineL) + 'px'
  const r = document.createElement('div')
  r.className = 'rule'
  r.style.cssText = 'left:' + boxRight + 'px;top:' + yR + 'px;width:' + (lineR - boxRight) + 'px'
  const b = document.createElement('div')
  b.className = 'box'
  b.textContent = text
  b.style.cssText = 'left:' + boxLeft + 'px;top:' + boxTop + 'px;width:' + (boxRight - boxLeft) + 'px;height:' + (boxBottom - boxTop) + 'px;padding-right:' + textShift + 'px'
  page.append(l, r, b)
}

const colA = { canvasLeft: 16, left: 118, right: 455, barLeft: 476, barLabel: 591 }
const colB = { canvasLeft: 642, left: 754, right: 1091, barLeft: 1112, barLabel: 1216 }
const colC = { canvasLeft: 1260, left: 1390, right: 1727, barLeft: 1748, barLabel: 1863 }
const row1 = { top: 105, bottom: 542 }
const row2 = { top: 677, bottom: 1114 }
const row3 = { top: 1251, bottom: 1649, lastRow: true }

const bigRadii = [6, 4.5, 7, 5]
const smallRadii = [4, 3, 5, 3.5]
const dotRadii = [2.3]

// Chart.js paints the first dataset last, so the outline goes at the end
function cloud(shape, base, core, mid, dots, colFn, radii) {
  return [
    pointSet(flatToTriples(dots), colFn, dotRadii),
    pointSet(flatToTriples(mid), colFn, [radii === bigRadii ? 4 : 3]),
    pointSet(rowsToTriples(core), colFn, radii),
    shapeSet(shape, base, colFn)
  ]
}

const yDepth = 'Snow depth proxy (m)'
const yRed = 'Red band'
const yIrr = 'Irradiance (Wm\u207B\u00B2)'

panel(colA, row1, '(a)', cloud(aShape, aBase, aCore, aMid, aDots, colFromRed, bigRadii), [0, 0.8], depthTicks, 1, yDepth)
panel(colB, row1, '(b)', cloud(bShape, bBase, bCore, bMid, bDots, colFromDepth, bigRadii), [50, 200], redTicks, 0, yRed)
panel(colC, row1, '(c)', cloud(cShape, cBase, cCore, cMid, cDots, colFromRed, bigRadii), [0, 1200], irrTicks, 0, yIrr)
panel(colA, row2, '(d)', cloud(dShape, dBase, dCore, dMid, dDots, colFromRed, bigRadii), [0, 0.8], depthTicks, 1, yDepth)
panel(colB, row2, '(e)', cloud(eShape, eBase, eCore, eMid, eDots, colFromDepth, bigRadii), [50, 200], redTicks, 0, yRed)
panel(colC, row2, '(f)', cloud(fShape, fBase, fCore, fMid, fDots, colFromRed, bigRadii), [0, 1200], irrTicks, 0, yIrr)
panel(colA, row3, '(g)', cloud(gShape, gBase, gCore, gMid, gDots, colFromRed, smallRadii), [0, 0.8], depthTicks, 1, yDepth)
panel(colB, row3, '(h)', cloud(hShape, hBase, hCore, hMid, hDots, colFromDepth, smallRadii), [50, 200], redTicks, 0, yRed)
panel(colC, row3, '(i)', cloud(iShape, iBase, iCore, iMid, iDots, colFromRed, smallRadii), [0, 1200], irrTicks, 0, yIrr)

;[row1, row2, row3].forEach(r => {
  colorbar(colA, r, makoMap, [60, 180], barRedTicks, 0, yRed)
  colorbar(colB, r, hotStops, [0, 0.6], barDepthTicks, 1, yDepth)
  colorbar(colC, r, makoMap, [60, 180], barRedTicks, 0, yRed)
})

sectionHeader('entire field', 824, 1088, 19, 87, 115, 1769, 54, 52, 14)
sectionHeader('sediment', 823, 1088, 592, 660, 115, 1768, 628, 627, 13)
sectionHeader('no sediment', 818, 1082, 1166, 1234, 112, 1769, 1201, 1200, 2)
</script>
</body>
</html>
